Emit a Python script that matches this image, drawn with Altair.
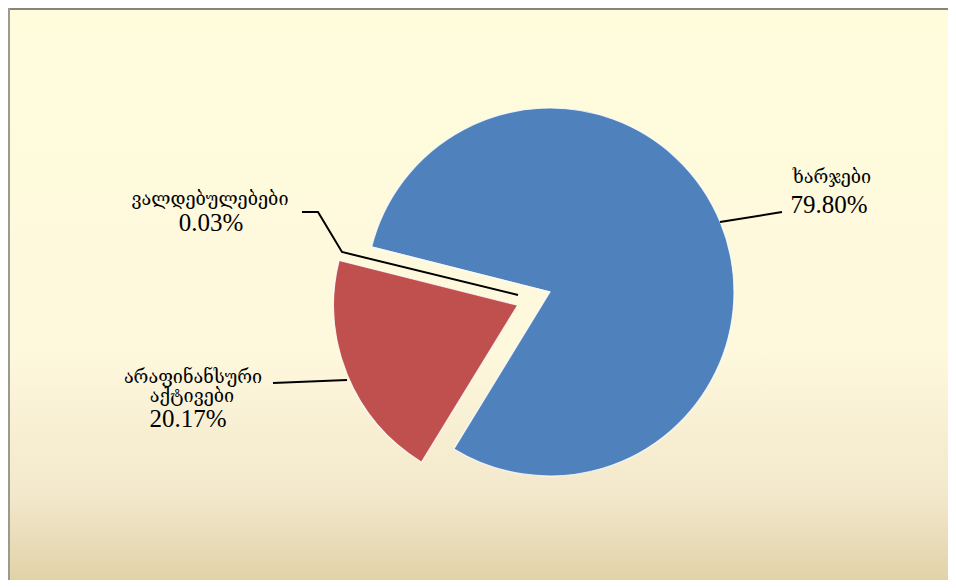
import math
import altair as alt
import pandas as pd

# ---- data ----
categories = ["ხარჯები", "არაფინანსური აქტივები", "ვალდებულებები"]
shares = [79.80, 20.17, 0.03]
pct_labels = ["79.80%", "20.17%", "0.03%"]
slice_colors = ["#4F81BD", "#C0504D", "#9BBB59"]

# ---- layout (pixels inside the view) ----
W, H = 940, 572
CX, CY, R = 542, 284, 184
START = math.radians(284.2)
EXPLODE = [0, 35, 0]

pie_df = pd.DataFrame({
    "cat": categories,
    "value": shares,
    "order": [0, 1, 2],
    "ex": EXPLODE,
})

bg = alt.Chart(pd.DataFrame({"a": [0]})).mark_rect(
    fill=alt.LinearGradient(
        gradient="linear", x1=0, x2=0, y1=0, y2=1,
        stops=[
            alt.GradientStop(color="#FFFCDC", offset=0),
            alt.GradientStop(color="#FEF8DC", offset=0.6),
            alt.GradientStop(color="#F3E8CC", offset=0.85),
            alt.GradientStop(color="#E1D2A8", offset=1),
        ],
    )
).encode(x=alt.value(0), x2=alt.value(W), y=alt.value(0), y2=alt.value(H))

border_top = alt.Chart(pd.DataFrame({"a": [0]})).mark_rule(
    color="#85857A", strokeWidth=2
).encode(x=alt.value(0), x2=alt.value(W), y=alt.value(1))
border_left = alt.Chart(pd.DataFrame({"a": [0]})).mark_rule(
    color="#9A9A90", strokeWidth=2
).encode(x=alt.value(1), y=alt.value(0), y2=alt.value(H))

tau = 2 * math.pi
pie = (
    alt.Chart(pie_df)
    .transform_window(cum="sum(value)", sort=[alt.SortField("order")], frame=[None, 0])
    .transform_calculate(t0="datum.cum - datum.value", t1="datum.cum")
    .transform_calculate(mid=f"{START} + (datum.t0 + datum.t1) / 200 * {tau}")
    .transform_calculate(
        cx=f"{CX} + datum.ex * sin(datum.mid)",
        cy=f"{CY} - datum.ex * cos(datum.mid)",
    )
    .mark_arc(outerRadius=R, stroke="#FFFFFF", strokeWidth=1.2, strokeOpacity=0.8)
    .encode(
        theta=alt.Theta("t0:Q", scale=alt.Scale(domain=[0, 100], range=[START, START + tau]), stack=None),
        theta2="t1:Q",
        x=alt.X("cx:Q", scale=None),
        y=alt.Y("cy:Q", scale=None),
        color=alt.Color("cat:N", scale=alt.Scale(domain=categories, range=slice_colors), legend=None),
    )
)

# leader lines (annotation geometry)
leader_df = pd.DataFrame({
    "lid": ["a", "a", "b", "b", "b", "b", "c", "c"],
    "i": [0, 1, 0, 1, 2, 3, 0, 1],
    "px": [712, 774, 294, 310, 334, 510, 265, 339],
    "py": [214, 204, 204, 204, 244, 287, 375, 372],
})
leaders = alt.Chart(leader_df).mark_line(color="#000000", strokeWidth=2).encode(
    x=alt.X("px:Q", scale=None),
    y=alt.Y("py:Q", scale=None),
    detail="lid:N",
    order="i:Q",
)

name_df = pd.DataFrame({
    "t": ["ხარჯები", "ვალდებულებები", "არაფინანსური", "აქტივები"],
    "px": [824, 202, 185, 184],
    "py": [170, 192, 370, 389],
})
names = alt.Chart(name_df).mark_text(
    font="DejaVu Serif", fontSize=18, color="#000000", baseline="middle", align="center"
).encode(x=alt.X("px:Q", scale=None), y=alt.Y("py:Q", scale=None), text="t:N")

pct_df = pd.DataFrame({
    "t": pct_labels,
    "px": [821, 180, 203],
    "py": [205, 419, 223],
})
pcts = alt.Chart(pct_df).mark_text(
    font="Liberation Serif", fontSize=25, color="#000000", baseline="alphabetic", align="center"
).encode(x=alt.X("px:Q", scale=None), y=alt.Y("py:Q", scale=None), text="t:N")

chart = (
    alt.layer(bg, border_top, border_left, pie, leaders, names, pcts)
    .properties(width=W, height=H, autosize=alt.AutoSizeParams(type="none"), padding=0)
    .configure_view(strokeWidth=0)
)

chart.save("out.html", embed_options={"renderer": "svg", "actions": False})
